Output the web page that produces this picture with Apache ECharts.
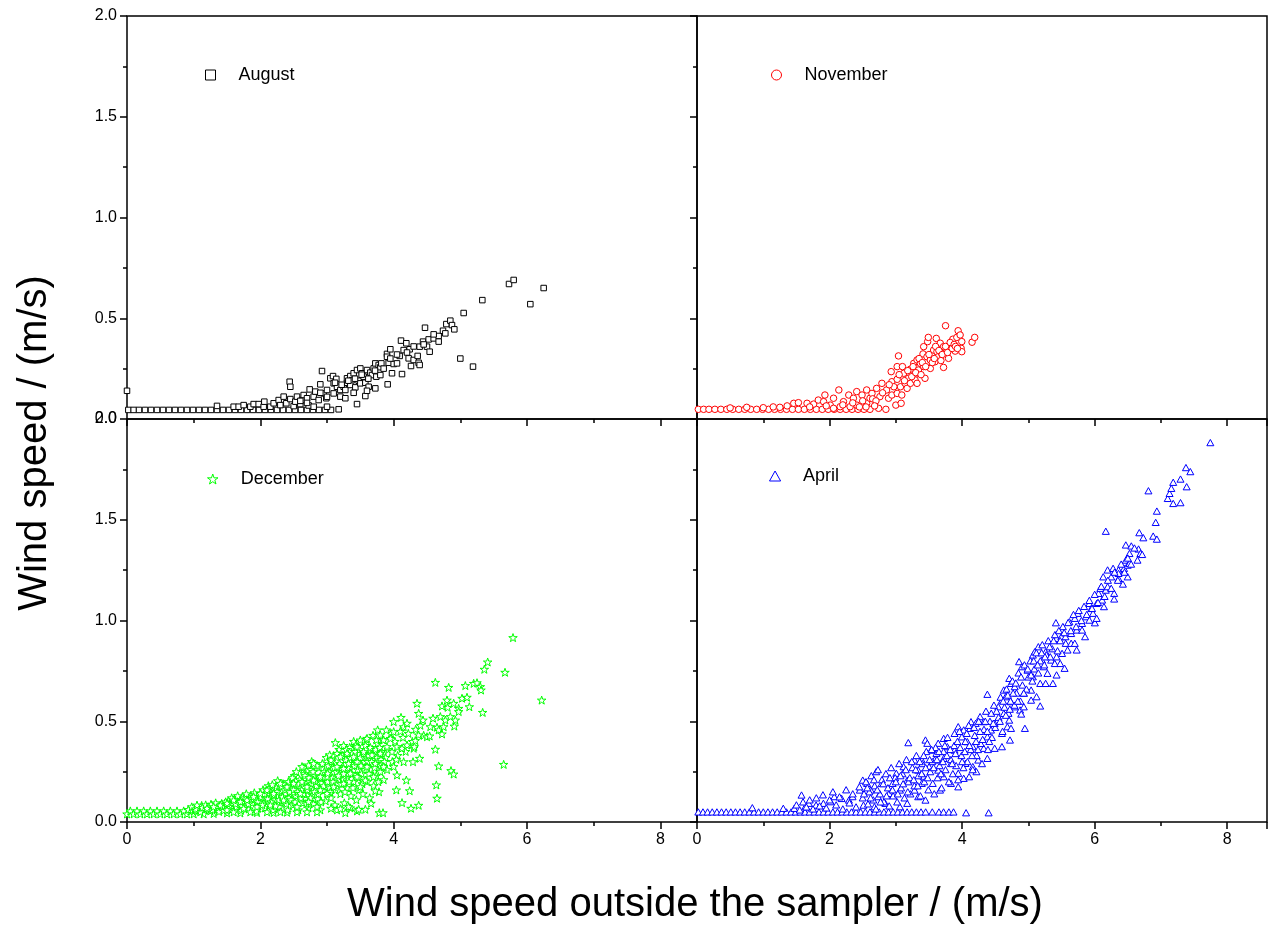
<!DOCTYPE html>
<html>
<head>
<meta charset="utf-8">
<script src="https://cdn.jsdelivr.net/npm/echarts@6/dist/echarts.min.js"></script>
<style>
html,body{margin:0;padding:0;background:#fff;}
#chart{width:1271px;height:930px;}
</style>
</head>
<body>
<div id="chart"></div>
<script>
const seriesNames = ['August', 'November', 'December', 'April'];
const xTitle = 'Wind speed outside the sampler / (m/s)';
const yTitle = 'Wind speed / (m/s)';

const augustData = [
[0.0,0.14],
[0.02,0.045],[0.1,0.045],[0.18,0.045],[0.27,0.045],[0.36,0.045],[0.45,0.045],[0.54,0.045],[0.63,0.045],[0.72,0.045],[0.81,0.045],[0.9,0.045],[0.99,0.045],[1.08,0.045],[1.17,0.045],[1.26,0.045],[1.35,0.045],[1.44,0.045],[1.53,0.045],[1.62,0.045],[1.71,0.045],[1.8,0.045],[1.89,0.045],[1.98,0.045],[2.07,0.045],[2.16,0.045],[2.25,0.045],[2.34,0.045],[2.43,0.045],[2.52,0.045],[2.61,0.045],[2.7,0.045],[2.79,0.045],[2.88,0.045],[2.97,0.045],[3.06,0.045],
[1.35,0.065],[1.6,0.061],[1.675,0.061],[1.75,0.069],[1.85,0.061],[1.9,0.074],[1.975,0.074],[2.05,0.061],[2.06,0.086],[2.15,0.061],[2.2,0.078],[2.275,0.094],[2.3,0.069],[2.35,0.111],[2.39,0.078],[2.44,0.185],[2.45,0.16],[2.45,0.099],[2.5,0.064],[2.525,0.086],[2.55,0.111],[2.6,0.074],[2.625,0.094],[2.65,0.119],[2.7,0.103],[2.725,0.067],[2.74,0.147],[2.8,0.111],[2.8,0.061],[2.825,0.136],[2.875,0.094],[2.9,0.172],[2.925,0.238],[2.95,0.127],[2.99,0.103],[3.0,0.144],[3.0,0.061],[3.05,0.202],[3.09,0.213],[3.1,0.177],[3.1,0.127],[3.14,0.199],[3.15,0.16],[3.175,0.048],[3.2,0.144],[3.2,0.111],[3.25,0.16],[3.275,0.103],[3.275,0.144],[3.3,0.18],[3.3,0.202],[3.35,0.169],[3.35,0.213],[3.375,0.193],[3.4,0.227],[3.425,0.157],[3.45,0.243],[3.45,0.074],[3.475,0.19],[3.5,0.251],[3.5,0.177],[3.525,0.227],[3.55,0.21],[3.575,0.18],[3.575,0.114],[3.6,0.243],[3.625,0.16],[3.65,0.23],[3.675,0.218],[3.7,0.251],[3.725,0.276],[3.725,0.152],[3.74,0.21],[3.775,0.268],[3.8,0.218],[3.8,0.257],[3.815,0.276],[3.9,0.323],[3.9,0.309],[3.91,0.172],[3.925,0.279],[3.95,0.346],[3.975,0.227],[4.0,0.273],[4.05,0.276],[4.09,0.313],[4.11,0.389],[4.125,0.223],[4.15,0.342],[4.19,0.376],[4.225,0.301],[4.24,0.346],[4.26,0.263],[4.3,0.293],[4.36,0.313],[4.375,0.279],[4.39,0.268],[4.39,0.359],[4.44,0.384],[4.47,0.453],[4.5,0.359],[4.525,0.395],[4.54,0.334],[4.6,0.4],[4.675,0.412],[4.675,0.384],[4.74,0.438],[4.775,0.425],[4.79,0.471],[4.85,0.488],[4.875,0.466],[4.91,0.445],[5.0,0.3],[5.05,0.526],[5.19,0.26],[5.33,0.59],[5.73,0.67],[5.8,0.69],[6.05,0.57],[6.25,0.65],
[3.12,0.18],[3.22,0.17],[3.32,0.19],[3.42,0.2],[3.52,0.22],[3.62,0.2],[3.72,0.24],[3.85,0.25],[3.95,0.3],[4.05,0.32],[4.2,0.33],[4.3,0.36],[4.45,0.37],[4.6,0.42],[3.0,0.11],[2.9,0.13],[2.6,0.09],[2.7,0.08],[3.4,0.13],[3.6,0.14]
];

const novemberData = [
[0.02,0.048],[0.1,0.048],[0.18,0.048],[0.27,0.048],[0.36,0.048],[0.45,0.048],[0.54,0.048],[0.63,0.048],[0.72,0.048],[0.81,0.048],[0.9,0.048],[0.99,0.048],[1.08,0.048],[1.17,0.048],[1.26,0.048],[1.35,0.048],[1.44,0.048],[1.53,0.048],[1.62,0.048],[1.71,0.048],[1.8,0.048],[1.89,0.048],[1.98,0.048],[2.07,0.048],[2.16,0.048],[2.25,0.048],[2.34,0.048],[2.43,0.048],[2.52,0.048],[2.61,0.048],
[0.5,0.055],[0.75,0.058],[1.0,0.056],[1.15,0.06],[1.25,0.058],[1.36,0.065],[1.46,0.078],[1.53,0.081],[1.66,0.078],[1.76,0.074],[1.83,0.094],[1.91,0.086],[1.93,0.119],[2.01,0.069],[2.06,0.103],[2.06,0.053],[2.14,0.144],[2.16,0.061],[2.21,0.086],[2.29,0.119],[2.31,0.061],[2.36,0.103],[2.41,0.136],[2.41,0.069],[2.49,0.119],[2.56,0.144],[2.56,0.078],[2.61,0.103],[2.64,0.127],[2.71,0.152],[2.74,0.053],[2.76,0.111],[2.79,0.177],[2.85,0.048],[2.86,0.144],[2.89,0.103],[2.93,0.235],[2.94,0.185],[2.94,0.119],[3.0,0.069],[3.02,0.26],[3.02,0.197],[3.02,0.127],[3.04,0.313],[3.07,0.16],[3.08,0.078],[3.09,0.119],[3.12,0.227],[3.14,0.177],[3.17,0.152],[3.19,0.202],[3.22,0.247],[3.22,0.177],[3.27,0.276],[3.28,0.218],[3.29,0.194],[3.32,0.293],[3.32,0.177],[3.34,0.243],[3.37,0.276],[3.41,0.323],[3.42,0.359],[3.42,0.26],[3.44,0.202],[3.47,0.309],[3.48,0.384],[3.49,0.405],[3.52,0.251],[3.52,0.293],[3.54,0.318],[3.57,0.342],[3.59,0.284],[3.61,0.4],[3.62,0.334],[3.64,0.309],[3.67,0.376],[3.69,0.326],[3.72,0.359],[3.72,0.256],[3.75,0.463],[3.795,0.301],[3.81,0.347],[3.86,0.396],[3.895,0.337],[3.92,0.405],[3.94,0.438],[3.97,0.417],[3.985,0.351],[3.995,0.384],[3.995,0.334],[4.15,0.381],[4.19,0.405],
[3.05,0.22],[3.1,0.26],[3.13,0.19],[3.18,0.24],[3.24,0.21],[3.26,0.26],[3.3,0.23],[3.35,0.3],[3.38,0.22],[3.4,0.28],[3.45,0.26],[3.5,0.32],[3.55,0.28],[3.58,0.3],[3.6,0.36],[3.65,0.34],[3.68,0.29],[3.7,0.32],[3.75,0.36],[3.78,0.33],[3.82,0.38],[3.85,0.35],[3.88,0.37],[3.9,0.36],[3.93,0.35],[2.5,0.09],[2.65,0.1],[2.7,0.09],[2.8,0.13],[2.97,0.16],[2.9,0.17],[2.2,0.07],[2.35,0.08],[2.45,0.06],[2.55,0.06],[2.68,0.065],[1.7,0.06],[1.95,0.065]
];

const decemberData = [
[0.0,0.04],[0.05,0.055],[0.1,0.04],[0.15,0.055],[0.2,0.04],[0.25,0.055],[0.3,0.04],[0.35,0.055],[0.4,0.04],[0.45,0.055],[0.5,0.04],[0.55,0.055],[0.6,0.04],[0.65,0.055],[0.7,0.04],[0.75,0.055],[0.8,0.04],[0.85,0.055],[0.9,0.04],[0.95,0.055],[1.0,0.04],[1.05,0.055],[1.15,0.04],[1.3,0.042],[1.5,0.045],[1.7,0.045],[1.95,0.047],[2.2,0.047],[2.4,0.048],
[0.92,0.062],[0.97,0.075],[1.02,0.058],[1.08,0.07],[1.12,0.082],[1.16,0.06],[1.22,0.075],[1.26,0.088],[1.31,0.066],[1.35,0.08],[1.38,0.052],[1.42,0.092],[1.46,0.07],[1.5,0.085],[1.1,0.05],[1.25,0.055],[1.45,0.058],
[1.52,0.105],[1.55,0.062],[1.58,0.09],[1.62,0.118],[1.64,0.075],[1.68,0.1],[1.71,0.058],[1.73,0.125],[1.77,0.085],[1.8,0.11],[1.83,0.065],[1.86,0.13],[1.88,0.095],[1.92,0.115],[1.94,0.055],[1.97,0.08],[1.99,0.135],[1.6,0.05],[1.85,0.05],
[2.02,0.1],[2.04,0.16],[2.07,0.07],[2.09,0.125],[2.12,0.18],[2.14,0.09],[2.17,0.145],[2.19,0.06],[2.22,0.11],[2.24,0.17],[2.27,0.13],[2.29,0.075],[2.31,0.155],[2.34,0.19],[2.36,0.1],[2.38,0.14],[2.41,0.06],[2.43,0.12],[2.45,0.2],[2.47,0.165],[2.49,0.085],[2.1,0.05],[2.3,0.05],[2.26,0.205],
[2.51,0.23],[2.53,0.13],[2.55,0.18],[2.57,0.06],[2.59,0.21],[2.62,0.16],[2.64,0.095],[2.66,0.24],[2.68,0.12],[2.7,0.2],[2.72,0.07],[2.74,0.17],[2.76,0.26],[2.78,0.135],[2.8,0.09],[2.82,0.23],[2.84,0.18],[2.86,0.115],[2.88,0.27],[2.9,0.06],[2.92,0.195],[2.94,0.155],[2.96,0.25],[2.98,0.105],[2.55,0.05],[2.7,0.05],[2.85,0.05],[2.65,0.27],[2.77,0.3],
[3.02,0.28],[3.04,0.17],[3.06,0.12],[3.08,0.22],[3.1,0.33],[3.12,0.085],[3.14,0.25],[3.16,0.19],[3.18,0.36],[3.2,0.14],[3.22,0.27],[3.24,0.21],[3.26,0.095],[3.28,0.31],[3.3,0.17],[3.32,0.24],[3.34,0.37],[3.36,0.13],[3.38,0.29],[3.4,0.2],[3.42,0.35],[3.44,0.11],[3.46,0.26],[3.48,0.16],[3.5,0.32],[3.15,0.06],[3.35,0.07],[3.45,0.055],[3.25,0.38],[3.4,0.4],
[3.52,0.24],[3.54,0.14],[3.56,0.3],[3.58,0.38],[3.6,0.2],[3.62,0.33],[3.64,0.12],[3.66,0.26],[3.68,0.36],[3.7,0.18],[3.72,0.31],[3.74,0.23],[3.76,0.39],[3.78,0.15],[3.8,0.28],[3.82,0.35],[3.85,0.21],[3.88,0.32],[3.9,0.26],
[1.03,0.065],[1.13,0.072],[1.18,0.085],[1.28,0.06],[1.33,0.095],[1.43,0.075],[1.48,0.1],[1.53,0.078],[1.57,0.12],[1.63,0.09],[1.66,0.13],[1.72,0.08],[1.76,0.12],[1.79,0.14],[1.82,0.09],[1.87,0.115],[1.91,0.145],[1.96,0.1],[2.01,0.125],[2.03,0.085],[2.06,0.14],[2.11,0.115],[2.13,0.165],[2.16,0.1],[2.18,0.185],[2.21,0.135],[2.23,0.08],[2.25,0.15],[2.28,0.11],[2.32,0.175],[2.33,0.125],[2.37,0.16],[2.39,0.09],[2.42,0.2],[2.44,0.15],[2.46,0.11],[2.48,0.22],[2.5,0.16],[2.52,0.1],[2.54,0.25],[2.56,0.15],[2.58,0.19],[2.61,0.12],[2.63,0.2],[2.65,0.14],[2.67,0.23],[2.69,0.09],[2.71,0.16],[2.73,0.22],[2.75,0.12],[2.77,0.19],[2.79,0.25],[2.81,0.15],[2.83,0.2],[2.85,0.28],[2.87,0.14],[2.89,0.22],[2.91,0.1],[2.93,0.29],[2.95,0.18],[2.97,0.22],[2.99,0.32],[3.01,0.2],[3.03,0.25],[3.05,0.15],[3.07,0.3],[3.09,0.2],[3.11,0.27],[3.13,0.16],[3.15,0.34],[3.17,0.23],[3.19,0.29],[3.21,0.19],[3.23,0.33],[3.25,0.24],[3.27,0.15],[3.29,0.36],[3.31,0.27],[3.33,0.2],[3.35,0.32],[3.37,0.24],[3.39,0.17],[3.41,0.28],[3.43,0.38],[3.45,0.3],[3.47,0.22],[3.49,0.36],[3.51,0.28],[3.53,0.19],[3.55,0.34],[3.57,0.26],[3.59,0.41],[3.61,0.3],[3.63,0.24],[3.65,0.37],[3.67,0.3],[3.69,0.43],[3.71,0.27],[3.73,0.36],[3.75,0.32],[3.77,0.2],[3.79,0.37],[3.81,0.31],[3.83,0.41],[3.86,0.3],[3.92,0.36],[3.96,0.44],[3.98,0.3],[4.02,0.4],[4.06,0.33],[4.1,0.45],[4.14,0.42],[4.18,0.35],[4.22,0.44],[4.28,0.4],[4.33,0.46],[4.4,0.48],[4.45,0.43],
[1.05,0.084],[1.2,0.068],[1.3,0.076],[1.4,0.084],[1.5,0.093],[1.5,0.06],[1.6,0.109],[1.7,0.101],[1.75,0.068],[1.8,0.109],[1.9,0.126],[1.95,0.076],[2.0,0.142],[2.1,0.159],[2.15,0.084],[2.2,0.142],[2.3,0.192],[2.35,0.109],[2.4,0.175],[2.5,0.192],[2.55,0.076],[2.6,0.142],[2.625,0.275],[2.625,0.2],[2.7,0.175],[2.725,0.283],[2.725,0.101],[2.8,0.291],[2.8,0.208],[2.85,0.076],[2.9,0.225],[2.9,0.159],[3.0,0.142],[3.0,0.225],[3.01,0.242],[3.04,0.333],[3.06,0.308],[3.06,0.068],[3.1,0.175],[3.125,0.394],[3.15,0.275],[3.2,0.324],[3.2,0.066],[3.25,0.266],[3.25,0.192],[3.275,0.046],[3.3,0.341],[3.325,0.291],[3.325,0.076],[3.35,0.242],[3.4,0.324],[3.45,0.374],[3.45,0.225],[3.475,0.063],[3.5,0.407],[3.5,0.175],[3.55,0.349],[3.575,0.208],[3.575,0.063],[3.6,0.415],[3.6,0.275],[3.66,0.093],[3.675,0.333],[3.7,0.225],[3.725,0.291],[3.725,0.155],[3.74,0.407],[3.76,0.457],[3.785,0.046],[3.8,0.432],[3.8,0.341],[3.8,0.25],[3.84,0.046],[3.85,0.407],[3.85,0.275],[3.89,0.457],[3.9,0.374],[3.95,0.415],[3.975,0.349],[4.0,0.498],[4.0,0.448],[4.0,0.275],[4.04,0.311],[4.04,0.159],[4.05,0.374],[4.05,0.233],[4.11,0.519],[4.125,0.366],[4.125,0.096],[4.15,0.473],[4.15,0.299],[4.19,0.208],[4.2,0.49],[4.2,0.382],[4.24,0.155],[4.26,0.068],[4.29,0.299],[4.3,0.366],[4.31,0.374],[4.325,0.404],[4.35,0.589],[4.375,0.539],[4.375,0.432],[4.375,0.083],[4.39,0.316],[4.44,0.506],[4.5,0.423],[4.54,0.427],[4.55,0.473],[4.59,0.515],[4.625,0.693],[4.625,0.361],[4.64,0.184],[4.65,0.47],[4.65,0.118],[4.675,0.457],[4.675,0.278],[4.7,0.523],[4.725,0.576],[4.725,0.437],[4.75,0.473],[4.775,0.506],[4.8,0.605],[4.81,0.569],[4.825,0.668],[4.85,0.523],[4.86,0.255],[4.9,0.589],[4.9,0.238],[4.91,0.476],[4.925,0.506],[4.975,0.564],[4.975,0.548],[5.025,0.614],[5.075,0.677],[5.1,0.619],[5.135,0.572],[5.2,0.688],[5.25,0.691],[5.3,0.672],[5.31,0.655],[5.335,0.544],[5.36,0.758],[5.41,0.794],[5.65,0.286],[5.67,0.743],[5.79,0.915],[6.22,0.605]
];

const aprilData = [
[0.02,0.05],[0.09,0.05],[0.16,0.05],[0.23,0.05],[0.3,0.05],[0.37,0.05],[0.44,0.05],[0.51,0.05],[0.58,0.05],[0.65,0.05],[0.72,0.05],[0.79,0.05],[0.86,0.05],[0.93,0.05],[1.0,0.05],[1.07,0.05],[1.14,0.05],[1.21,0.05],[1.28,0.05],[1.35,0.05],[1.42,0.05],[1.49,0.05],[1.56,0.05],[1.63,0.05],[1.7,0.05],[1.77,0.05],[1.84,0.05],[1.91,0.05],[1.98,0.05],[2.05,0.05],[2.12,0.05],[2.19,0.05],[2.26,0.05],[2.33,0.05],[2.4,0.05],[2.47,0.05],[2.54,0.05],[2.61,0.05],[2.68,0.05],[2.75,0.05],[2.82,0.05],[2.89,0.05],[2.96,0.05],[3.03,0.05],[3.1,0.05],[3.17,0.05],[3.24,0.05],[3.31,0.05],[3.38,0.05],[3.45,0.05],[3.55,0.05],[3.65,0.05],[3.72,0.05],[3.8,0.05],[3.87,0.05],[4.06,0.046],[4.4,0.046],
[0.835,0.071],[1.302,0.068],[1.467,0.068],[1.577,0.134],[1.632,0.076],[1.687,0.093],[1.797,0.084],[1.907,0.093],[2.017,0.101],[2.072,0.126],[2.182,0.117],[2.292,0.109],[2.347,0.126],[2.457,0.159],[2.501,0.208],[2.512,0.084],[2.567,0.192],[2.622,0.159],[2.677,0.076],[2.704,0.25],[2.732,0.126],[2.787,0.192],[2.842,0.093],[2.897,0.142],[2.952,0.192],[3.007,0.242],[3.062,0.159],[3.062,0.076],[3.117,0.275],[3.172,0.208],[3.172,0.093],[3.188,0.394],[3.282,0.308],[3.282,0.159],[3.337,0.258],[3.337,0.126],[3.392,0.308],[3.392,0.192],[3.419,0.225],[3.447,0.407],[3.447,0.109],[3.474,0.391],[3.502,0.275],[3.529,0.357],[3.557,0.192],[3.584,0.308],[3.612,0.341],[3.639,0.391],[3.639,0.258],[3.667,0.159],[3.722,0.415],[3.722,0.316],[3.722,0.225],[3.777,0.374],[3.832,0.291],[3.832,0.192],[3.886,0.44],[3.886,0.357],[3.941,0.473],[3.941,0.242],[3.941,0.175],[3.996,0.423],[4.024,0.457],[4.024,0.217],[4.051,0.291],[4.079,0.399],[4.106,0.225],[4.117,0.465],[4.134,0.498],[4.161,0.374],[4.161,0.275],[4.205,0.49],[4.216,0.25],[4.243,0.308],[4.271,0.523],[4.326,0.498],[4.326,0.366],[4.381,0.634],[4.381,0.423],[4.381,0.316],[4.436,0.457],[4.491,0.49],[4.491,0.366],[4.546,0.572],[4.601,0.605],[4.601,0.44],[4.601,0.374],[4.628,0.655],[4.629,0.539],[4.656,0.622],[4.683,0.473],[4.711,0.713],[4.711,0.506],[4.722,0.407],[4.738,0.688],[4.738,0.597],[4.738,0.465],[4.793,0.672],[4.793,0.572],[4.859,0.796],[4.875,0.556],[4.892,0.536],[4.903,0.771],[4.931,0.639],[4.931,0.572],[4.947,0.465],[4.986,0.754],[5.041,0.655],[5.041,0.605],[5.068,0.829],[5.068,0.721],[5.096,0.845],[5.123,0.622],[5.15,0.87],[5.178,0.688],[5.178,0.576],[5.205,0.804],[5.233,0.771],[5.26,0.845],[5.26,0.688],[5.288,0.738],[5.343,0.804],[5.37,0.688],[5.398,0.787],[5.415,0.989],[5.425,0.912],[5.425,0.82],[5.425,0.73],[5.48,0.787],[5.497,0.92],[5.508,0.837],[5.546,0.763],[5.563,0.887],[5.591,0.854],[5.618,0.994],[5.645,0.936],[5.645,0.887],[5.7,1.011],[5.7,0.887],[5.728,0.953],[5.728,0.854],[5.744,1.036],[5.81,0.986],[5.81,0.953],[5.855,0.92],[5.866,1.019],[5.92,1.085],[5.92,1.002],[5.948,1.06],[5.975,1.036],[6.003,0.989],[6.03,1.011],[6.03,1.085],[6.058,1.135],[6.085,1.16],[6.113,1.102],[6.129,1.217],[6.14,1.069],[6.168,1.443],[6.168,1.151],[6.195,1.251],[6.195,1.168],[6.25,1.217],[6.278,1.259],[6.294,1.135],[6.294,1.107],[6.36,1.251],[6.36,1.209],[6.36,1.234],[6.426,1.181],[6.443,1.259],[6.47,1.375],[6.47,1.3],[6.498,1.275],[6.498,1.217],[6.525,1.333],[6.525,1.284],[6.553,1.37],[6.646,1.3],[6.662,1.355],[6.673,1.436],[6.69,1.333],[6.717,1.328],[6.734,1.411],[6.811,1.644],[6.883,1.419],[6.921,1.487],[6.938,1.543],[6.938,1.404],[7.102,1.606],[7.13,1.631],[7.157,1.656],[7.185,1.686],[7.185,1.581],[7.295,1.702],[7.295,1.585],[7.377,1.759],[7.388,1.664],[7.443,1.739],[7.745,1.883],
[1.5,0.085],[1.55,0.06],[1.6,0.1],[1.65,0.075],[1.7,0.11],[1.75,0.065],[1.8,0.12],[1.85,0.08],[1.9,0.135],[1.95,0.07],[2.0,0.11],[2.05,0.15],[2.1,0.085],[2.15,0.125],[2.2,0.065],[2.25,0.16],[2.3,0.095],[2.35,0.14],[2.4,0.075],[2.45,0.175],[2.5,0.12],
[2.55,0.2],[2.58,0.09],[2.6,0.15],[2.63,0.23],[2.66,0.11],[2.68,0.18],[2.7,0.065],[2.73,0.26],[2.76,0.14],[2.79,0.21],[2.82,0.1],[2.85,0.24],[2.88,0.17],[2.9,0.08],[2.93,0.27],[2.96,0.13],[2.99,0.22],[3.02,0.1],[3.05,0.29],[3.08,0.17],[3.1,0.24],[3.13,0.12],[3.16,0.31],[3.19,0.2],[3.22,0.14],[3.25,0.27],[3.28,0.18],[3.31,0.33],[3.34,0.23],[3.37,0.13],[3.4,0.29],[3.43,0.2],[3.46,0.35],[3.49,0.16],[3.52,0.25],
[3.55,0.3],[3.58,0.14],[3.6,0.37],[3.63,0.22],[3.66,0.28],[3.69,0.17],[3.72,0.35],[3.75,0.26],[3.78,0.42],[3.8,0.2],[3.83,0.31],[3.86,0.24],[3.88,0.38],[3.91,0.28],[3.94,0.21],[3.96,0.45],[3.99,0.33],[4.02,0.27],[4.05,0.4],[4.08,0.3],[4.1,0.48],[4.13,0.36],[4.16,0.26],[4.19,0.43],[4.22,0.33],[4.25,0.5],[4.28,0.39],[4.3,0.29],[4.33,0.46],[4.36,0.55],[4.39,0.36],[4.42,0.5],[4.45,0.42],[4.48,0.58],[4.5,0.47],
[4.55,0.52],[4.58,0.62],[4.61,0.45],[4.64,0.57],[4.67,0.66],[4.7,0.54],[4.73,0.6],[4.76,0.7],[4.79,0.58],[4.82,0.64],[4.85,0.74],[4.88,0.6],[4.91,0.68],[4.94,0.78],[4.97,0.66],[5.0,0.72],[5.03,0.8],[5.06,0.7],[5.09,0.76],[5.12,0.84],[5.15,0.74],[5.18,0.8],[5.21,0.88],[5.24,0.78],[5.27,0.83],[5.3,0.9],[5.33,0.82],[5.36,0.86],[5.4,0.93],[5.44,0.85],[5.48,0.9],
[5.52,0.97],[5.56,0.92],[5.6,0.99],[5.64,0.95],[5.68,1.03],[5.72,0.97],[5.76,1.05],[5.8,1.0],[5.84,1.07],[5.88,1.03],[5.92,1.1],[5.96,1.06],[6.0,1.13],[6.05,1.09],[6.1,1.17],[6.15,1.12],[6.2,1.2],[6.25,1.16],[6.3,1.24],[6.35,1.2],[6.4,1.28],[6.45,1.24],[6.5,1.31],[6.55,1.28],[6.6,1.36],
[2.52,0.14],[2.57,0.17],[2.62,0.12],[2.67,0.21],[2.72,0.16],[2.77,0.1],[2.81,0.19],[2.86,0.13],[2.91,0.22],[2.95,0.16],[3.0,0.2],[3.03,0.14],[3.07,0.23],[3.11,0.19],[3.15,0.26],[3.18,0.15],[3.21,0.22],[3.24,0.3],[3.27,0.21],[3.3,0.26],[3.33,0.18],[3.36,0.3],[3.39,0.24],[3.42,0.33],[3.45,0.27],[3.48,0.22],[3.51,0.31],[3.54,0.36],[3.57,0.27],[3.62,0.31],[3.65,0.35],[3.68,0.24],[3.71,0.3],[3.74,0.38],[3.77,0.33],[3.82,0.36],[3.85,0.29],[3.9,0.34],[3.93,0.4],[3.97,0.37],[4.0,0.3],[4.04,0.35],[4.07,0.44],[4.11,0.38],[4.15,0.33],[4.18,0.47],[4.21,0.4],[4.24,0.36],[4.27,0.45],[4.31,0.41],[4.35,0.5],[4.38,0.45],[4.41,0.4],[4.44,0.54],[4.47,0.49],[4.52,0.55],[4.57,0.5],[4.62,0.6],[4.66,0.53],[4.69,0.63],[4.72,0.56],[4.77,0.64],[4.81,0.69],[4.84,0.6],[4.89,0.72],[4.93,0.64],[4.99,0.76],[5.04,0.73],[5.08,0.8],[5.14,0.78],[5.2,0.84],[5.25,0.82],[5.32,0.87],[5.38,0.9],[5.46,0.95],[5.54,0.94]
];

const FONT = '"Liberation Sans", Arial, sans-serif';
const squarePath = 'path://M0,0 L10,0 L10,10 L0,10 Z';
const trianglePath = 'path://M5,0 L10,9 L0,9 Z';
const starPath = 'path://M50,0 L61.8,35.1 L97.6,34.5 L68.8,56 L79.4,90.5 L50,69.8 L20.6,90.5 L31.2,56 L2.4,34.5 L38.2,35.1 Z';

const panels = [
  {name: seriesNames[0], data: augustData, color: '#000000', symbol: squarePath, size: 5.5, left: 127, top: 16, xmax: 8.55, xLabels: false, yLabels: true, legendLeft: 205, legendTop: 65},
  {name: seriesNames[1], data: novemberData, color: '#ff0000', symbol: 'circle', size: 6.5, left: 697, top: 16, xmax: 8.6, xLabels: false, yLabels: false, legendLeft: 771, legendTop: 65},
  {name: seriesNames[2], data: decemberData, color: '#00ff00', symbol: starPath, size: 8.5, left: 127, top: 419, xmax: 8.55, xLabels: true, yLabels: true, legendLeft: 207, legendTop: 469},
  {name: seriesNames[3], data: aprilData, color: '#0000ff', symbol: trianglePath, size: 7, left: 697, top: 419, xmax: 8.6, xLabels: true, yLabels: false, legendLeft: 769, legendTop: 466}
];

const tickLine = {color: '#000', width: 1.5};
const grids = [], xAxes = [], yAxes = [], series = [], legends = [];
panels.forEach((p, i) => {
  grids.push({left: p.left, top: p.top, width: 570, height: 403, show: true, borderColor: '#000', borderWidth: 1.5, backgroundColor: 'transparent', containLabel: false, outerBoundsMode: 'none'});
  xAxes.push({
    gridIndex: i, type: 'value', min: 0, max: p.xmax, interval: 2, position: 'bottom',
    axisLine: {show: false},
    axisTick: {show: true, inside: false, length: 7, lineStyle: tickLine},
    minorTick: {show: true, splitNumber: 2, length: 4, lineStyle: tickLine},
    splitLine: {show: false}, minorSplitLine: {show: false},
    axisLabel: {show: p.xLabels, showMaxLabel: false, fontSize: 16, color: '#000', fontFamily: FONT, margin: 10}
  });
  yAxes.push({
    gridIndex: i, type: 'value', min: 0, max: 2, interval: 0.5, position: 'left',
    axisLine: {show: false},
    axisTick: {show: true, inside: false, length: 7, lineStyle: tickLine},
    minorTick: {show: true, splitNumber: 2, length: 4, lineStyle: tickLine},
    splitLine: {show: false}, minorSplitLine: {show: false},
    axisLabel: {show: p.yLabels, fontSize: 16, color: '#000', fontFamily: FONT, margin: 10, formatter: v => v.toFixed(1)}
  });
  series.push({
    name: p.name, type: 'scatter', xAxisIndex: i, yAxisIndex: i, data: p.data,
    symbol: p.symbol, symbolSize: p.size, symbolKeepAspect: true,
    itemStyle: {color: '#ffffff', borderColor: p.color, borderWidth: 1, opacity: 1},
    emphasis: {disabled: true}, animation: false
  });
  legends.push({
    data: [p.name], left: p.legendLeft, top: p.legendTop, padding: 0,
    itemWidth: 46, itemHeight: 10, selectedMode: false, symbolKeepAspect: true,
    itemStyle: {color: '#ffffff', borderColor: p.color, borderWidth: 1},
    textStyle: {fontSize: 18, lineHeight: 20, color: '#000', fontFamily: FONT}
  });
});

const chart = echarts.init(document.getElementById('chart'), null, {renderer: 'canvas'});
chart.setOption({
  backgroundColor: '#ffffff',
  animation: false,
  grid: grids, xAxis: xAxes, yAxis: yAxes, series: series, legend: legends,
  graphic: [
    {type: 'text', x: 35, y: 443, rotation: Math.PI / 2,
     style: {text: yTitle, font: '40px ' + FONT, fill: '#000', textAlign: 'center', textVerticalAlign: 'middle'}},
    {type: 'text', x: 695, y: 905,
     style: {text: xTitle, font: '40px ' + FONT, fill: '#000', textAlign: 'center', textVerticalAlign: 'middle'}}
  ]
});
</script>
</body>
</html>
